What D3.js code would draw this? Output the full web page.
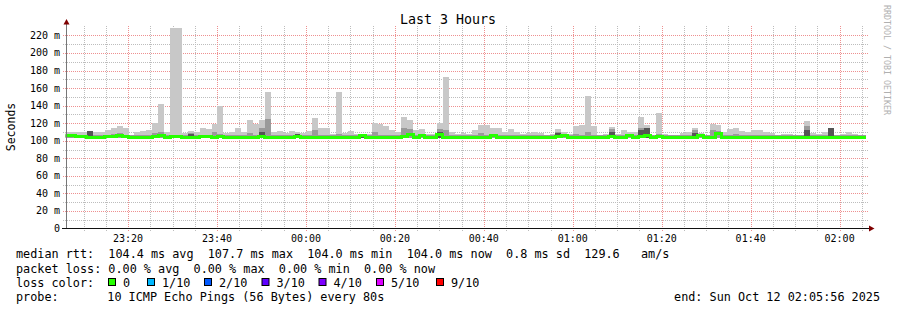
<!DOCTYPE html>
<html>
<head>
<meta charset="utf-8">
<script src="https://cdn.jsdelivr.net/npm/d3@7"></script>
<style>
  html, body { margin: 0; padding: 0; background: #fff; }
  text { font-family: "DejaVu Sans Mono", monospace; white-space: pre; }
</style>
</head>
<body>
<div id="chart"></div>
<script>
// 80 s steps, first one starts 23:05:26 (partly left of the graph)
var stepSeconds = 80;
var firstStep = new Date(2025, 9, 11, 23, 5, 26);
var graphStart = new Date(2025, 9, 11, 23, 5, 56);
var graphEnd = new Date(2025, 9, 12, 2, 5, 56);

// median rtt per step (ms)
var medianRtt = [
  105.5, 105.5, 105, 104.5, 104, 104, 104, 104.5, 104.5, 106,
  104.5, 104, 104, 104, 104, 104.5, 106.5, 104, 104.5, 104.5,
  104, 104, 104, 104.5, 104.5, 104, 104.5, 104, 104, 104,
  104, 104, 104, 104.5, 104, 104, 104, 104, 104, 104.5,
  104, 104, 104, 104, 104, 104, 104, 104, 104, 104,
  106, 104, 104, 104, 104, 104, 104, 104.5, 107, 104,
  106.5, 104, 104, 107, 104, 104, 104, 104, 104, 104,
  104, 104, 105.5, 104, 104, 104, 104, 104, 104, 104,
  104, 104, 104, 104.5, 106, 104, 104, 104, 104, 104,
  104, 104, 104.5, 104, 104, 105.5, 104, 104.5, 106.5, 104,
  104.5, 104, 104, 104, 104, 104, 104, 106, 104, 104,
  107.7, 104, 104, 104, 104, 104, 104, 104, 104, 104,
  104, 104, 104, 104, 104, 104, 104, 104, 104, 104,
  104, 104, 104, 104, 104, 104
];

// outer smoke: slowest ping per step (ms)
var smokeMax = [
  110, 110, 110, 110, 111, 110, 110, 112, 114, 117,
  115, 107, 110, 111, 112, 120, 142, 110, 229, 229,
  109, 111, 110, 115, 113, 119, 139, 109, 110, 115,
  110, 124, 119, 124, 155, 110, 111, 109, 111, 110,
  109, 111, 126, 114, 115, 108, 156, 109, 111, 108,
  108, 108, 120, 119, 117, 112, 110, 127, 124, 112,
  113, 108, 108, 120, 173, 110, 108, 109, 108, 112,
  118, 118, 114, 115, 110, 113, 110, 108, 109, 110,
  109, 107, 108, 113, 110, 108, 117, 118, 151, 117,
  107, 108, 116, 108, 112, 110, 110, 127, 118, 107,
  132, 108, 106, 106, 109, 110, 114, 109, 107, 119,
  118, 110, 113, 114, 111, 110, 112, 112, 110, 109,
  107, 108, 108, 106, 107, 123, 109, 108, 110, 115,
  107, 108, 110, 108, 107, 107
];

// middle smoke layer (ms)
var smokeMid = [
  106, 106, 106, 106, 111, 106, 106, 106, 108, 109,
  106, 106, 106, 106, 106, 109, 110, 106, 107, 107,
  106, 109, 106, 106, 106, 110, 108, 106, 106, 106,
  106, 109, 106, 115, 125, 106, 106, 106, 107, 106,
  106, 106, 112, 106, 106, 106, 108, 106, 106, 106,
  106, 106, 110, 106, 106, 106, 106, 115, 113, 106,
  107, 106, 106, 113, 112, 106, 106, 106, 106, 106,
  109, 106, 106, 106, 106, 106, 106, 106, 106, 106,
  106, 106, 106, 110, 106, 106, 108, 106, 110, 106,
  106, 106, 113, 106, 106, 106, 106, 114, 115, 106,
  108, 106, 106, 106, 106, 106, 112, 106, 106, 112,
  111, 106, 106, 108, 106, 106, 106, 106, 106, 106,
  106, 106, 106, 106, 106, 117, 106, 106, 106, 115,
  106, 106, 106, 106, 106, 106
];

// inner (darkest) smoke layer (ms)
var smokeDark = [
  103, 103, 103, 103, 111, 103, 103, 103, 103, 103,
  103, 103, 103, 103, 103, 103, 103, 103, 103, 103,
  103, 108, 103, 103, 103, 103, 103, 103, 103, 103,
  103, 103, 103, 110, 103, 103, 103, 103, 103, 108,
  103, 103, 103, 103, 103, 103, 103, 103, 103, 103,
  108, 103, 103, 103, 103, 103, 103, 103, 103, 103,
  103, 103, 103, 110, 103, 103, 103, 103, 103, 103,
  103, 103, 103, 103, 103, 103, 103, 103, 103, 103,
  103, 103, 103, 109, 103, 103, 103, 103, 103, 103,
  103, 103, 110, 103, 103, 103, 103, 112, 115, 103,
  103, 103, 103, 103, 103, 103, 109, 103, 103, 103,
  103, 103, 103, 103, 103, 103, 103, 103, 103, 103,
  103, 103, 103, 103, 103, 112, 103, 103, 103, 114,
  103, 103, 103, 103, 103, 103
];
var smokeFloor = 103;

var yTicks = [0, 20, 40, 60, 80, 100, 120, 140, 160, 180, 200, 220];

var statLines = [
  "median rtt:  104.4 ms avg  107.7 ms max  104.0 ms min  104.0 ms now  0.8 ms sd  129.6   am/s",
  "packet loss: 0.00 % avg  0.00 % max  0.00 % min  0.00 % now"
];
var lossLabels = ["0", "1/10", "2/10", "3/10", "4/10", "5/10", "9/10"];
var lossColors = ["#26ff00", "#00b8ff", "#0059ff", "#5e00ff", "#7e00ff", "#dd00ff", "#ff0000"];
var probeText = "10 ICMP Echo Pings (56 Bytes) every 80s";
var endText = "end: Sun Oct 12 02:05:56 2025";

(function () {
  var W = 897, H = 310;
  var left = 65.5, right = 866, top = 27.5, bottom = 228.5;

  var svg = d3.select("#chart").append("svg")
    .attr("width", W).attr("height", H)
    .style("display", "block");

  var x = d3.scaleTime().domain([graphStart, graphEnd]).range([left, right]);
  var y = d3.scaleLinear().domain([0, 229]).range([bottom, top]);

  // rows, plus a closing point so the last step gets its width
  var rows = medianRtt.map(function (m, i) {
    return {
      t: new Date(+firstStep + i * stepSeconds * 1000),
      med: m, max: smokeMax[i], mid: smokeMid[i], dark: smokeDark[i]
    };
  });
  var last = rows[rows.length - 1];
  rows.push(Object.assign({}, last, { t: new Date(+last.t + stepSeconds * 1000) }));

  // grid
  var grid = svg.append("g").attr("shape-rendering", "crispEdges");
  var minorY = d3.range(10, 230, 10).filter(function (v) { return v % 20 !== 0; });
  grid.selectAll(".hminor").data(minorY).join("line")
    .attr("x1", 63).attr("x2", 869)
    .attr("y1", function (d) { return Math.round(y(d)) + 0.5; })
    .attr("y2", function (d) { return Math.round(y(d)) + 0.5; })
    .attr("stroke", "#bdbdbd").attr("stroke-dasharray", "1,1");
  grid.selectAll(".vminor").data(d3.timeMinute.every(5).range(graphStart, graphEnd)
      .filter(function (d) { return d.getMinutes() % 20 !== 0; }))
    .join("line")
    .attr("x1", function (d) { return Math.round(x(d)) + 0.5; })
    .attr("x2", function (d) { return Math.round(x(d)) + 0.5; })
    .attr("y1", 26).attr("y2", 231)
    .attr("stroke", "#bdbdbd").attr("stroke-dasharray", "1,1");
  grid.selectAll(".hmajor").data(yTicks.filter(function (v) { return v > 0; })).join("line")
    .attr("x1", 63).attr("x2", 869)
    .attr("y1", function (d) { return Math.round(y(d)) + 0.5; })
    .attr("y2", function (d) { return Math.round(y(d)) + 0.5; })
    .attr("stroke", "#ee9090").attr("stroke-dasharray", "1,1");
  grid.selectAll(".vmajor").data(d3.timeMinute.every(20).range(graphStart, graphEnd)).join("line")
    .attr("x1", function (d) { return Math.round(x(d)) + 0.5; })
    .attr("x2", function (d) { return Math.round(x(d)) + 0.5; })
    .attr("y1", 26).attr("y2", 231)
    .attr("stroke", "#ee9090").attr("stroke-dasharray", "1,1");

  // smoke + median
  svg.append("defs").append("clipPath").attr("id", "plot")
    .append("rect").attr("x", left).attr("y", top)
    .attr("width", right - left).attr("height", bottom - top);
  var plot = svg.append("g").attr("clip-path", "url(#plot)")
    .attr("shape-rendering", "crispEdges");

  function smoke(key) {
    return d3.area()
      .x(function (d) { return x(d.t); })
      .y0(y(smokeFloor))
      .y1(function (d) { return y(d[key]); })
      .curve(d3.curveStepAfter);
  }
  [["max", "#c8c8c8"], ["mid", "#9a9a9a"], ["dark", "#555555"]].forEach(function (l) {
    plot.append("path").datum(rows).attr("fill", l[1]).attr("d", smoke(l[0]));
  });

  plot.append("path").datum(rows)
    .attr("fill", "none")
    .attr("stroke", lossColors[0])
    .attr("stroke-width", 3)
    .attr("d", d3.line()
      .x(function (d) { return x(d.t); })
      .y(function (d) { return y(d.med); })
      .curve(d3.curveStepAfter));

  // axes
  svg.append("line").attr("x1", 66.5).attr("x2", 66.5).attr("y1", 229).attr("y2", 23)
    .attr("stroke", "#777");
  svg.append("line").attr("x1", 62).attr("x2", 871).attr("y1", 228.5).attr("y2", 228.5)
    .attr("stroke", "#111");
  svg.append("path").attr("d", "M63.5,24.5L66.5,19L69.5,24.5Z").attr("fill", "#7f0000");
  svg.append("path").attr("d", "M869,225.5L874.5,228.5L869,231.5Z").attr("fill", "#7f0000");

  svg.selectAll(".ylab").data(yTicks).join("text")
    .attr("x", 60).attr("y", function (d) { return y(d) + 3.5; })
    .attr("text-anchor", "end").attr("font-size", 10).attr("fill", "#000")
    .text(function (d) { return d === 0 ? "0" : d + " m"; });

  var fmt = d3.timeFormat("%H:%M");
  svg.selectAll(".xlab").data(d3.timeMinute.every(20).range(graphStart, graphEnd)).join("text")
    .attr("x", function (d) { return x(d); }).attr("y", 241.5)
    .attr("text-anchor", "middle").attr("font-size", 10).attr("fill", "#000")
    .text(function (d) { return fmt(d); });

  // titles
  svg.append("text").attr("x", 448).attr("y", 23.5).attr("text-anchor", "middle")
    .attr("font-size", 13.3).text("Last 3 Hours");
  svg.append("text").attr("transform", "translate(15,127) rotate(-90)")
    .attr("text-anchor", "middle").attr("font-size", 11.5).text("Seconds");
  svg.append("text").attr("transform", "translate(884,5) rotate(90)")
    .attr("font-size", 8.3).attr("fill", "#b0b0b0").text("RRDTOOL / TOBI OETIKER");

  // legend
  var fs = 11.8;
  statLines.forEach(function (s, i) {
    svg.append("text").attr("x", 16).attr("y", 258.3 + i * 14.2)
      .attr("font-size", fs).text(s);
  });
  svg.append("text").attr("x", 16).attr("y", 286.7).attr("font-size", fs).text("loss color:");
  var boxX = [108, 147, 204, 261.5, 318.5, 376, 436];
  lossLabels.forEach(function (lab, i) {
    svg.append("rect").attr("x", boxX[i] + 0.5).attr("y", 278.5)
      .attr("width", 7).attr("height", 7)
      .attr("fill", lossColors[i]).attr("stroke", "#000").attr("stroke-width", 1);
    svg.append("text").attr("x", boxX[i] + 15).attr("y", 286.7)
      .attr("font-size", fs).text(lab);
  });
  svg.append("text").attr("x", 16).attr("y", 300.7).attr("font-size", fs).text("probe:");
  svg.append("text").attr("x", 107.3).attr("y", 300.7).attr("font-size", fs).text(probeText);
  svg.append("text").attr("x", 880).attr("y", 300.7).attr("text-anchor", "end")
    .attr("font-size", fs).text(endText);
})();
</script>
</body>
</html>
